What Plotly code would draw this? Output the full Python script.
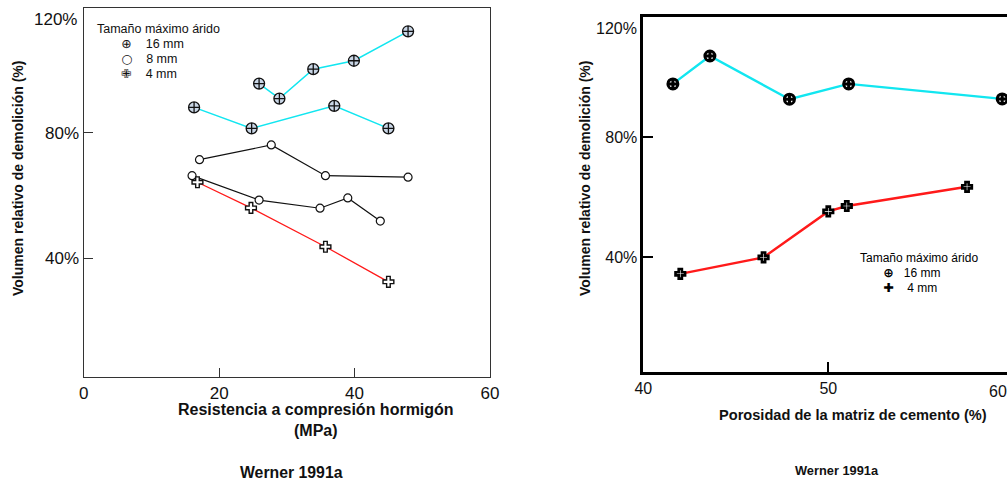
import plotly.graph_objects as go

# ---- Left panel: relative demolition volume vs. concrete compressive strength (MPa)
strength_16a = [16.3, 24.8, 37.0, 45.0]
volume_16a = [88.1, 81.4, 88.6, 81.4]
strength_16b = [25.9, 28.9, 33.9, 39.9, 47.9]
volume_16b = [95.7, 90.9, 100.3, 103.0, 112.4]
strength_8a = [17.1, 27.7, 35.7, 47.9]
volume_8a = [71.4, 76.1, 66.3, 65.8]
strength_8b = [16.0, 25.9, 34.9, 39.0, 43.8]
volume_8b = [66.3, 58.5, 55.9, 59.2, 51.8]
strength_4 = [16.8, 24.7, 35.7, 45.0]
volume_4 = [64.2, 56.0, 43.6, 32.4]

# ---- Right panel: relative demolition volume vs. cement matrix porosity (%)
porosity_16 = [41.6, 43.6, 47.9, 51.1, 59.4]
volume_p16 = [97.7, 107.0, 92.6, 97.7, 92.7]
porosity_4 = [42.0, 46.5, 50.0, 51.0, 57.5]
volume_p4 = [34.4, 39.9, 55.2, 57.0, 63.4]

left_xticks = [0, 20, 40, 60]
right_xticks = [40, 50]
y_ticks = [40, 80]
y_ticktext = ["40%", "80%"]

legend_title = "Tamaño máximo árido"
left_keys = [("⊕", "16 mm"), ("○", "8 mm"), ("✙", "4 mm")]
right_keys = [("⊕", "16 mm"), ("✚", " 4 mm")]

FONT = "Liberation Sans, Arial, sans-serif"
CYAN = "#12e6f0"
RED = "#ff1a1a"

m16_left = dict(symbol="circle-cross", size=11, color="#c9d6e6", line=dict(color="#111", width=1.3))
m8_left = dict(symbol="circle", size=8, color="white", line=dict(color="#111", width=1.2))
m4_left = dict(symbol="cross", size=9, color="white", line=dict(color="#111", width=1.4))
m16_right = dict(symbol="circle-cross", size=10, color="white", line=dict(color="#000", width=3))
m4_right = dict(symbol="cross", size=8, color="white", line=dict(color="#000", width=2.6))

fig = go.Figure()

def series(x, y, color, width, marker, xa, ya):
    fig.add_trace(go.Scatter(x=x, y=y, mode="lines+markers", xaxis=xa, yaxis=ya,
                             line=dict(color=color, width=width), marker=marker,
                             showlegend=False, cliponaxis=False, hoverinfo="x+y"))

series(strength_16a, volume_16a, CYAN, 1.5, m16_left, "x", "y")
series(strength_16b, volume_16b, CYAN, 1.5, m16_left, "x", "y")
series(strength_8a, volume_8a, "#111", 1.2, m8_left, "x", "y")
series(strength_8b, volume_8b, "#111", 1.2, m8_left, "x", "y")
series(strength_4, volume_4, RED, 1.3, m4_left, "x", "y")

series(porosity_16, volume_p16, CYAN, 2.4, m16_right, "x2", "y2")
series(porosity_4, volume_p4, RED, 2.4, m4_right, "x2", "y2")

W, H = 1007, 484
px = lambda v: v / W
py = lambda v: 1 - v / H

axis_common = dict(showgrid=False, zeroline=False, ticks="inside", showline=True)

fig.update_layout(
    width=W, height=H,
    margin=dict(l=0, r=0, t=0, b=0, autoexpand=False),
    paper_bgcolor="white", plot_bgcolor="white",
    font=dict(family=FONT, color="#111"),
    showlegend=False,
    xaxis=dict(axis_common, domain=[px(83.7), px(490)], range=[0, 60], tickvals=left_xticks,
               ticklen=9, tickcolor="#333", linecolor="#333", linewidth=1.3, mirror=True,
               tickfont=dict(family=FONT, size=17, color="#111"), anchor="y"),
    yaxis=dict(axis_common, domain=[py(377), py(7.5)], range=[2, 120], tickvals=y_ticks,
               ticktext=y_ticktext, ticklen=9, tickcolor="#333", linecolor="#333", linewidth=1.3,
               mirror=True, tickfont=dict(family=FONT, size=17, color="#111"), anchor="x",
               ticklabelstandoff=0),
    xaxis2=dict(axis_common, domain=[px(643.3), 1.0], range=[40, 40 + (W - 643.3) / 18.5],
                tickvals=right_xticks, ticklen=10, tickcolor="#000", linecolor="#000", linewidth=2.5,
                tickwidth=2, mirror=True, tickfont=dict(family=FONT, size=16, color="#111"), anchor="y2"),
    yaxis2=dict(axis_common, domain=[py(372), py(17)], range=[1.67, 120], tickvals=y_ticks,
                ticktext=y_ticktext, ticklen=10, tickcolor="#000", linecolor="#000", linewidth=2.5,
                tickwidth=2, mirror=False, tickfont=dict(family=FONT, size=16, color="#111"), anchor="x2",
                ticklabelstandoff=0),
)

bold = lambda s: dict(family=FONT, size=s, color="#111", weight="bold")
plain = lambda s: dict(family=FONT, size=s, color="#111")


def legend_block(keys, text_px, glyph_px, indent, gap, glyph_weight="normal"):
    """One text block: title line plus one line per key (glyph + label)."""
    nb = "\u00a0"
    lines = [f"<span style='font-size:{text_px}px'>{legend_title}</span>"]
    for glyph, label in keys:
        lines.append(
            f"<span style='font-size:{text_px}px'>{nb * indent}</span>"
            f"<span style='font-family:DejaVu Sans;font-size:{glyph_px}px;font-weight:{glyph_weight}'>{glyph}</span>"
            f"<span style='font-size:{text_px}px'>{nb * gap}{label}</span>"
        )
    return "<br>".join(lines)


# 15 px line pitch: the block's base font size sets the line spacing (1.3 em)
pitch_font = 15 / 1.3

annotations = [
    # axis titles
    dict(text="Volumen relativo de demolición (%)", x=px(18), y=py(179), textangle=-90, font=bold(14)),
    dict(text="Volumen relativo de demolición (%)", x=px(585), y=py(179), textangle=-90, font=bold(14)),
    dict(text="Resistencia a compresión hormigón<br>(MPa)", x=px(316), y=py(420), font=bold(16)),
    dict(text="Porosidad de la matriz de cemento (%)", x=px(853), y=py(415), font=bold(14.6)),
    # captions
    dict(text="Werner 1991a", x=px(291), y=py(472), font=bold(15.8)),
    dict(text="Werner 1991a", x=px(837), y=py(470), font=bold(12.8)),
    # top tick labels
    dict(text="120%", x=px(79), y=py(20), xanchor="right", font=plain(17)),
    dict(text="120%", x=px(639), y=py(28), xanchor="right", font=plain(16)),
    dict(text="60", x=px(998), y=py(391), font=plain(16)),
    # legends
    dict(text=legend_block(left_keys, 12.5, 12.5, 7, 4), x=px(95), y=py(52), xanchor="left",
         align="left", font=dict(family=FONT, size=pitch_font, color="#111")),
    dict(text=legend_block(right_keys, 12, 12.5, 7, 3, "bold"), x=px(858), y=py(273), xanchor="left",
         align="left", font=dict(family=FONT, size=pitch_font, color="#000")),
]

for a in annotations:
    a.setdefault("xanchor", "center")
    fig.add_annotation(xref="paper", yref="paper", showarrow=False, yanchor="middle", **a)

fig.write_html("out.html")
